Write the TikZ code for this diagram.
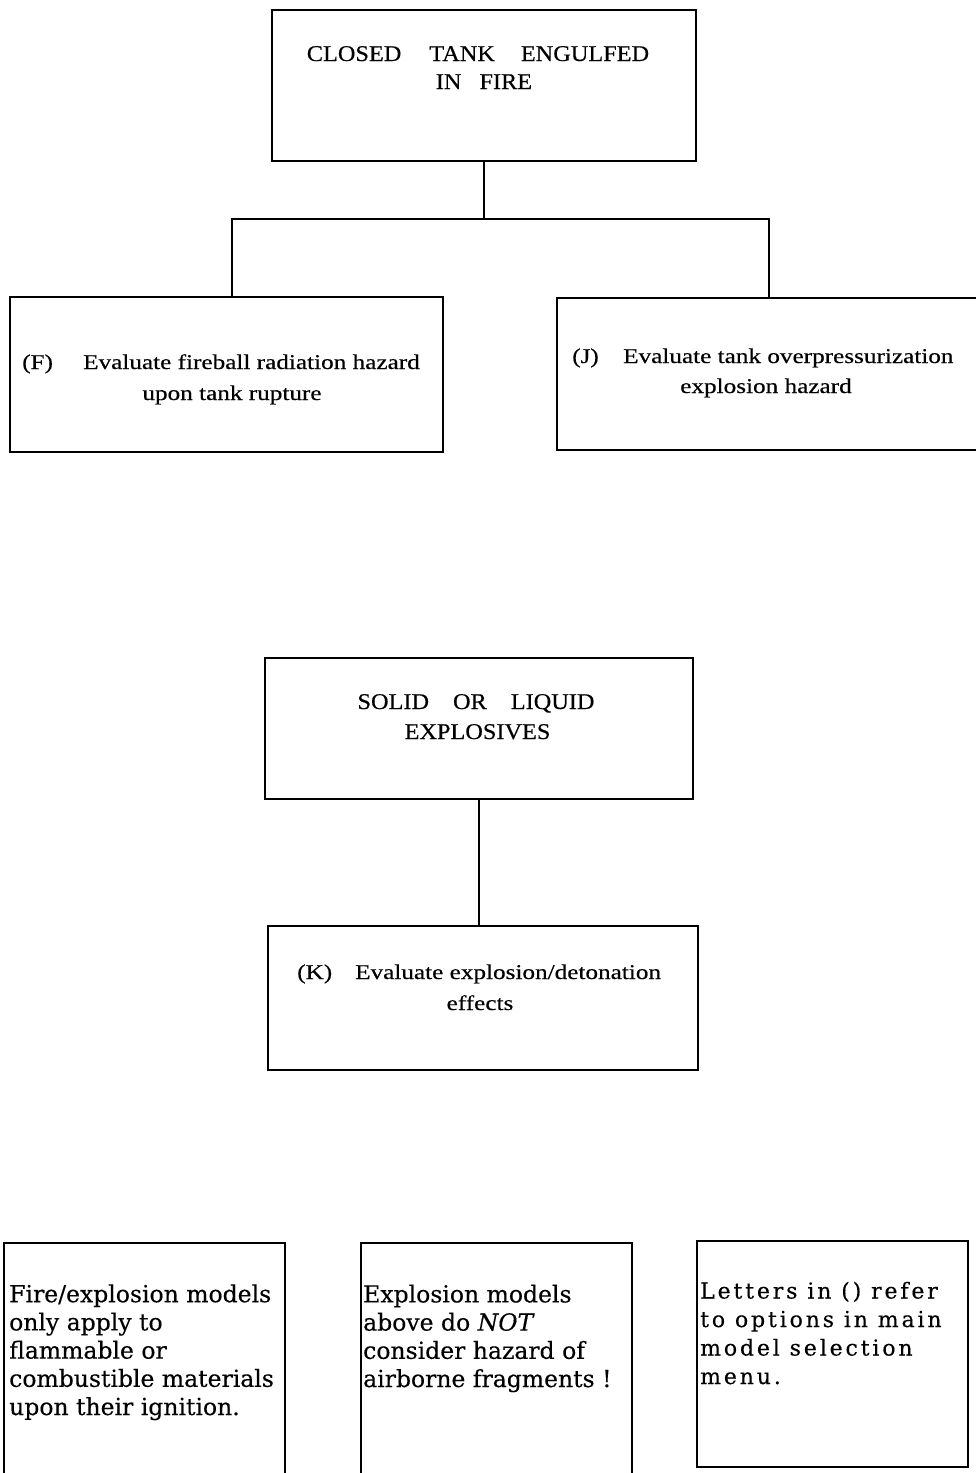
\documentclass[tikz,border=0pt]{standalone}
\usepackage{fontspec}
\setmainfont{Liberation Serif}
\newfontfamily\capfont[FakeStretch=1.08,FakeBold=0.4]{Liberation Serif}
\newfontfamily\bodyfont[FakeStretch=1.2,FakeBold=0.4]{Liberation Serif}
\newfontfamily\notefont[FakeBold=0.3]{DejaVu Serif}
\newfontfamily\menufont[LetterSpace=13,FakeBold=0.3]{DejaVu Serif}
\tikzset{
  box/.style={draw, line width=1.6pt, inner sep=0pt, outer sep=0pt},
  conn/.style={line width=1.6pt},
  caps/.style={inner sep=0pt, anchor=base, font=\capfont\fontsize{22.5}{27}\selectfont},
  body/.style={inner sep=0pt, font=\bodyfont\fontsize{21}{26}\selectfont},
  note/.style={inner sep=0pt, anchor=base west, align=left, font=\notefont\fontsize{23.5}{28.2}\selectfont},
  menu/.style={inner sep=0pt, anchor=base west, align=left, font=\menufont\fontsize{22}{28.5}\selectfont}
}
\begin{document}
\begin{tikzpicture}[x=1pt,y=-1pt]
\useasboundingbox[fill=white] (0,0) rectangle (975,1473);

% top box
\node[box, minimum width=424pt, minimum height=151pt] (top) at (484,85.5) {};
\node[caps] (t1) at (478,61) {CLOSED\hspace{28pt}TANK\hspace{26pt}ENGULFED};
\node[caps] (t2) at (484,89) {IN\hspace{18pt}FIRE};

% F and J boxes
\node[box, minimum width=433pt, minimum height=155pt] (Fbox) at (226.5,374.5) {};
\node[body, anchor=base west] (Fl) at (22,369) {(F)};
\node[body, anchor=base west] (F1) at (83,369) {Evaluate fireball radiation hazard};
\node[body, anchor=base] (F2) at (232,400) {upon tank rupture};

\node[box, minimum width=433pt, minimum height=152pt] (Jbox) at (773.5,374) {};
\node[body, anchor=base west] (Jl) at (572,363) {(J)};
\node[body, anchor=base west] (J1) at (623,363) {Evaluate tank overpressurization};
\node[body, anchor=base] (J2) at (766,393) {explosion hazard};

\coordinate (hl) at (232,219);
\coordinate (hr) at (769,219);
\draw[conn] (top.south) -- (top.south |- hl);
\draw[conn] (Fbox.north -| hl) -- (hl) -- (hr) -- (hr |- Jbox.north);

% solid / liquid explosives
\node[box, minimum width=428pt, minimum height=141pt] (Sbox) at (479,728.5) {};
\node[caps] (s1) at (476,709) {SOLID\hspace{24pt}OR\hspace{24pt}LIQUID};
\node[caps] (s2) at (477.5,739) {EXPLOSIVES};

\node[box, minimum width=430pt, minimum height=144pt] (Kbox) at (483,998) {};
\node[body, anchor=base west] (Kl) at (297,979) {(K)};
\node[body, anchor=base west] (K1) at (355,979) {Evaluate explosion/detonation};
\node[body, anchor=base] (K2) at (480,1010) {effects};

\draw[conn] (Sbox.south) -- (Sbox.south |- Kbox.north);

% notes (base anchor = baseline of last line)
\node[box, minimum width=281pt, minimum height=257pt] (n1) at (144.5,1371.5) {};
\node[note] (n1t) at (9,1415) {Fire/explosion models\\only apply to\\flammable or\\combustible materials\\upon their ignition.};

\node[box, minimum width=271pt, minimum height=257pt] (n2) at (496.5,1371.5) {};
\node[note] (n2t) at (363,1387) {Explosion models\\above do \textit{NOT}\\consider hazard of\\airborne fragments !};

\node[box, minimum width=271pt, minimum height=226pt] (n3) at (832.5,1354) {};
\node[menu] (n3t) at (700,1384) {Letters in () refer\\to options in main\\model selection\\menu.};
\end{tikzpicture}
\end{document}
